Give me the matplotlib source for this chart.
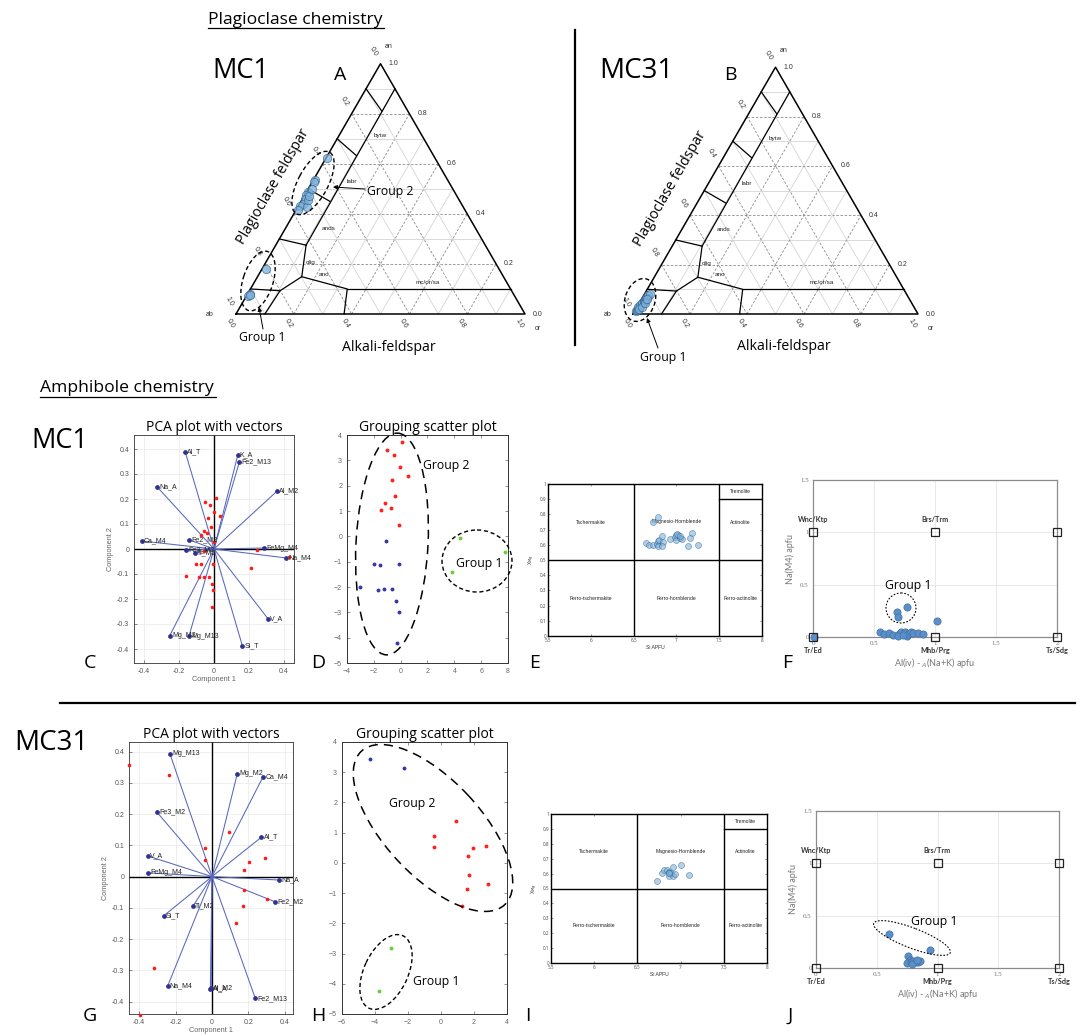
import numpy as np
import matplotlib
matplotlib.use("Agg")
import matplotlib.pyplot as plt
from matplotlib.patches import Ellipse, FancyArrowPatch
from matplotlib.transforms import Affine2D
from matplotlib.lines import Line2D

plt.rcParams['font.family'] = ['Open Sans', 'DejaVu Sans']

# ---------------------------------------------------------------- data
# Plagioclase compositions (An, Or fractions)
mc1_plag_an = [0.623, 0.536, 0.527, 0.487, 0.475, 0.46, 0.44, 0.43, 0.416, 0.427, 0.455, 0.47, 0.50,
               0.18, 0.08, 0.072, 0.076]
mc1_plag_or = [0.005, 0.005, 0.008, 0.004, 0.006, 0.01, 0.013, 0.006, 0.008, 0.031, 0.02, 0.018, 0.012,
               0.013, 0.008, 0.007, 0.01]
mc31_plag_an = [0.012, 0.018, 0.022, 0.027, 0.031, 0.035, 0.04, 0.044, 0.048, 0.052, 0.057, 0.062,
                0.066, 0.071, 0.076, 0.082, 0.02, 0.03, 0.045, 0.06]
mc31_plag_or = [0.004, 0.006, 0.008, 0.005, 0.01, 0.007, 0.012, 0.009, 0.014, 0.011, 0.013, 0.016,
                0.012, 0.018, 0.015, 0.02, 0.012, 0.015, 0.018, 0.02]

# PCA biplot MC1
mc1_vec_names = ['Al_T', 'K_A', 'Fe2_M13', 'Na_A', 'Al_M2', 'Ca_M4', 'Fe2_M2', 'FeMg_M4', 'Na_M4',
                 'Fe3_M2', 'Ti_M2', 'V_A', 'Mg_M2', 'Mg_M13', 'Si_T']
mc1_vec_c1 = [-0.164, 0.136, 0.145, -0.325, 0.36, -0.413, -0.143, 0.289, 0.415, -0.158, -0.111,
              0.308, -0.253, -0.143, 0.162]
mc1_vec_c2 = [0.387, 0.375, 0.348, 0.248, 0.231, 0.032, 0.037, 0.004, -0.036, -0.005, -0.017,
              -0.278, -0.346, -0.348, -0.386]
mc1_obs_c1 = [0.009, -0.053, -0.023, 0.0, 0.034, -0.032, -0.019, -0.06, -0.038, -0.072, -0.002,
              -0.055, 0.245, 0.43, -0.102, -0.077, -0.004, 0.211, -0.158, -0.085, -0.06, -0.028,
              -0.013, -0.004, -0.013]
mc1_obs_c2 = [0.204, 0.187, 0.176, 0.148, 0.131, 0.123, 0.089, 0.072, 0.063, 0.057, 0.027, -0.009,
              -0.004, -0.032, -0.059, -0.061, -0.059, -0.076, -0.109, -0.113, -0.111, -0.112,
              -0.139, -0.164, -0.23]

# PCA biplot MC31
mc31_vec_names = ['Mg_M13', 'Mg_M2', 'Ca_M4', 'Fe3_M2', 'Al_T', 'V_A', 'FeMg_M4', 'Na_A', 'Fe2_M2',
                  'Ti_M2', 'Si_T', 'Na_M4', 'Al_A', 'Al_M2', 'Fe2_M13']
mc31_vec_c1 = [-0.231, 0.139, 0.28, -0.302, 0.271, -0.352, -0.35, 0.37, 0.348, -0.104, -0.266,
               -0.244, -0.009, -0.004, 0.238]
mc31_vec_c2 = [0.393, 0.33, 0.319, 0.206, 0.126, 0.066, 0.012, -0.011, -0.081, -0.094, -0.126,
               -0.351, -0.359, -0.357, -0.39]
mc31_obs_c1 = [-0.456, -0.234, 0.095, -0.04, -0.04, 0.293, 0.201, 0.174, 0.178, 0.3, 0.17, 0.134,
               -0.317, -0.394]
mc31_obs_c2 = [0.357, 0.325, 0.144, 0.092, 0.052, 0.059, 0.048, 0.022, -0.044, -0.073, -0.093,
               -0.149, -0.292, -0.442]

# Grouping scatter MC1
mc1_red_x = [0.13, -1.04, -0.49, -0.04, 0.55, -0.66, -0.42, -1.2, -0.74, -1.46, -0.14]
mc1_red_y = [3.74, 3.41, 3.21, 2.73, 2.39, 2.23, 1.61, 1.31, 1.11, 1.05, 0.46]
mc1_blue_x = [-1.09, -1.96, -1.54, -0.14, -3.03, -1.66, -1.21, -0.66, -0.32, -0.14, -0.29]
mc1_blue_y = [-0.2, -1.08, -1.13, -1.08, -1.99, -2.13, -2.06, -2.07, -2.56, -3.0, -4.23]
mc1_green_x = [4.43, 7.81, 3.84]
mc1_green_y = [-0.08, -0.63, -1.41]

# Grouping scatter MC31
mc31_red_x = [0.89, -0.41, -0.41, 1.91, 2.74, 1.62, 1.68, 2.84, 1.6, 1.26]
mc31_red_y = [1.40, 0.9, 0.51, 0.48, 0.57, 0.22, -0.41, -0.69, -0.88, -1.43]
mc31_blue_x = [-4.33, -2.24]
mc31_blue_y = [3.45, 3.15]
mc31_green_x = [-3.01, -3.74]
mc31_green_y = [-2.8, -4.25]

# Amphibole classification (Si apfu vs X_Mg)
mc1_si = [6.79, 6.73, 6.645, 6.68, 6.73, 6.77, 6.79, 6.8, 6.83, 6.84, 6.78, 6.83, 6.92, 6.98, 7.02,
          7.0, 7.04, 7.07, 7.0, 7.18, 7.16, 7.14, 7.25, 7.01, 7.04]
mc1_xmg = [0.785, 0.75, 0.609, 0.6, 0.596, 0.604, 0.626, 0.63, 0.657, 0.62, 0.591, 0.591, 0.635,
           0.653, 0.664, 0.63, 0.642, 0.635, 0.662, 0.679, 0.646, 0.591, 0.596, 0.67, 0.657]
mc31_si = [6.73, 6.79, 6.81, 6.84, 6.86, 6.87, 6.87, 6.89, 6.91, 6.91, 6.94, 7.0, 7.1, 6.86]
mc31_xmg = [0.552, 0.605, 0.623, 0.623, 0.612, 0.601, 0.583, 0.605, 0.583, 0.646, 0.596, 0.661,
            0.592, 0.605]
amph_fields = ['Tschermakite', 'Magnesio-Hornblende', 'Actinolite', 'Tremolite',
               'Ferro-tschermakite', 'Ferro-hornblende', 'Ferro-actinolite']
amph_field_si = [6.0, 7.0, 7.75, 7.75, 6.0, 7.0, 7.75]
amph_field_xmg = [0.75, 0.75, 0.75, 0.95, 0.25, 0.25, 0.25]

# Na(M4) vs Al(iv)-A(Na+K)
mc1_aliv = [0.685, 0.696, 0.77, 1.014, 0.008, 0.553, 0.58, 0.625, 0.652, 0.707, 0.718, 0.753, 0.77,
            0.78, 0.8, 0.822, 0.863, 0.904, 0.7, 0.74]
mc1_nam4 = [0.235, 0.187, 0.289, 0.156, 0.0, 0.044, 0.029, 0.035, 0.016, 0.029, 0.044, 0.044, 0.006,
            0.032, 0.048, 0.038, 0.038, 0.032, 0.006, 0.022]
mc31_aliv = [0.6, 0.936, 0.76, 0.77, 0.747, 0.78, 0.8, 0.824, 0.843, 0.856, 0.788, 0.83]
mc31_nam4 = [0.322, 0.169, 0.111, 0.073, 0.048, 0.054, 0.067, 0.057, 0.054, 0.064, 0.041, 0.073]
ref_names = ['Tr/Ed', 'Wnc/Ktp', 'Mhb/Prg', 'Brs/Trm', 'Ts/Sdg', '']
ref_x = [0, 0, 1, 1, 2, 2]
ref_y = [0, 1, 0, 1, 0, 1]

# ---------------------------------------------------------------- figure
W, H = 1083, 1035
fig = plt.figure(figsize=(W / 100, H / 100), dpi=100)
fig.patch.set_facecolor('white')
PX = Affine2D().scale(1 / W, -1 / H).translate(0, 1) + fig.transFigure


def add_ax(x, y, w, h):
    return fig.add_axes([x / W, 1 - (y + h) / H, w / W, h / H])


def ftext(x, y, s, **kw):
    return fig.text(x, y, s, transform=PX, **kw)


def fline(xs, ys, **kw):
    fig.add_artist(Line2D(xs, ys, transform=PX, **kw))


def fell(cx, cy, w, h, ang=0, ls=(0, (3, 2)), lw=1.0):
    fig.add_artist(Ellipse((cx, cy), w, h, angle=-ang, transform=PX, fill=False,
                           ls=ls, lw=lw, color='k'))


def farrow(x0, y0, x1, y1):
    fig.add_artist(FancyArrowPatch((x0, y0), (x1, y1), transform=PX, arrowstyle='-|>',
                                   mutation_scale=6, lw=0.7, color='k', shrinkA=0, shrinkB=0))


# ---------------------------------------------------------------- ternary
SQ = np.sqrt(3) / 2
TICKF = 'Liberation Sans'
GF = 8.8  # group label font size


def t2c(an, orr):
    an = np.asarray(an, float)
    orr = np.asarray(orr, float)
    return orr + an / 2, an * SQ


field_lines = [[(0.9, 0.0), (0.81, 0.1)], [(0.9, 0.1), (0.275, 0.105)],
               [(0.7, 0.0), (0.633, 0.1)], [(0.5, 0.0), (0.45, 0.1)], [(0.3, 0.0), (0.275, 0.105)],
               [(0.275, 0.105), (0.149, 0.153), (0.093, 0.106), (0.0, 0.1)],
               [(0.1, 0.0), (0.093, 0.106)], [(0.149, 0.153), (0.1, 0.335), (0.0, 0.374)],
               [(0.1, 0.335), (0.1, 0.9)]]
field_labels = [('bytw', 0.712, 0.142), ('labr', 0.529, 0.136), ('ands', 0.343, 0.148),
                ('olig', 0.204, 0.157), ('ano', 0.159, 0.225), ('mc/or/sa', 0.126, 0.6)]


def ternary(vx, vy, s, an_v, or_v):
    h = s * SQ
    mL, mR, mT, mB = 70, 60, 50, 60
    ax = add_ax(vx - mL, vy - h - mT, s + mL + mR, h + mT + mB)
    ax.set_xlim(-mL / s, 1 + mR / s)
    ax.set_ylim(-mB / s, (h + mT) / s)
    ax.axis('off')
    for i in range(1, 10):
        v = i / 10
        if i % 2 == 0:
            kw = dict(color='#8a8a8a', lw=0.6, ls=(0, (3, 2)))
        else:
            kw = dict(color='#d4d4d4', lw=0.6)
        for (a1, o1), (a2, o2) in [((v, 0), (v, 1 - v)), ((0, v), (1 - v, v)),
                                   ((1 - v, 0), (0, 1 - v))]:
            x, y = t2c([a1, a2], [o1, o2])
            ax.plot(x, y, zorder=1, **kw)
    x, y = t2c([0, 0, 1, 0], [0, 1, 0, 0])
    ax.plot(x, y, color='k', lw=1.1, zorder=3)
    for seg in field_lines:
        a = [p[0] for p in seg]
        o = [p[1] for p in seg]
        x, y = t2c(a, o)
        ax.plot(x, y, color='k', lw=0.9, zorder=3)
    for name, a, o in field_labels:
        x, y = t2c(a, o)
        ax.text(x, y, name, fontsize=4.6, family=TICKF, color='#222', ha='center', va='center',
                zorder=5)
    for i in range(6):
        v = i / 5
        lab = f'{v:.1f}'
        # An on right edge
        x, y = t2c(v, 1 - v)
        ax.text(x + 0.028, y, lab, fontsize=5, family=TICKF, color='#333', ha='left', va='center')
        # Ab on left edge
        x, y = t2c(1 - v, 0)
        ax.text(x - 0.024, y + 0.042, lab, fontsize=5, family=TICKF, color='#333', ha='center',
                va='center', rotation=-60)
        # Or on bottom
        x, y = t2c(0, v)
        ax.text(x - 0.02, y - 0.032, lab, fontsize=5, family=TICKF, color='#333', ha='center',
                va='center', rotation=-60)
    ax.text(0.5 + 0.03, SQ + 0.055, 'an', fontsize=5, family=TICKF, color='#333', ha='center')
    ax.text(-0.09, 0, 'ab', fontsize=5, family=TICKF, color='#333', ha='center', va='center')
    ax.text(1.045, -0.05, 'or', fontsize=5, family=TICKF, color='#333', ha='center', va='center')
    ax.text(0.13, 0.44, 'Plagioclase feldspar', fontsize=10.3, rotation=60, ha='center',
            va='center')
    ax.text(0.53, -0.115, 'Alkali-feldspar', fontsize=10.2, ha='center', va='center')
    x, y = t2c(an_v, or_v)
    ax.plot(x, y, 'o', ms=6, mfc='#7fb1da', mec='#2f6390', mew=0.6, alpha=0.75, zorder=6,
            clip_on=False)
    return ax


ternary(236, 314, 289, mc1_plag_an, mc1_plag_or)
ternary(633, 314, 285, mc31_plag_an, mc31_plag_or)

# ternary annotations
fell(313, 183, 70, 30, ang=62)
ftext(390, 192, 'Group 2', fontsize=GF, ha='center', va='center')
farrow(365, 189, 333, 187)
fell(258, 281, 62, 30, ang=72)
ftext(262, 338, 'Group 1', fontsize=GF, ha='center', va='center')
farrow(263, 329, 259, 307)
fell(640, 300, 44, 30, ang=72)
ftext(663, 357, 'Group 1', fontsize=GF, ha='center', va='center')
farrow(658, 348, 647, 318)

# ---------------------------------------------------------------- headings
ftext(208, 24, 'Plagioclase chemistry', fontsize=12.6, ha='left', va='baseline')
fline([208, 384], [28, 28], color='k', lw=0.9)
ftext(40, 392, 'Amphibole chemistry', fontsize=12.6, ha='left', va='baseline')
fline([40, 216], [397, 397], color='k', lw=0.9)
fline([575, 575], [30, 345], color='k', lw=1.6)
fline([60, 1075], [703, 703], color='k', lw=1.6)

ftext(212, 78, 'MC1', fontsize=19.5, ha='left', va='baseline')
ftext(334, 80, 'A', fontsize=14, ha='left', va='baseline')
ftext(599, 78, 'MC31', fontsize=20, ha='left', va='baseline')
ftext(724, 80, 'B', fontsize=14, ha='left', va='baseline')
ftext(31, 448, 'MC1', fontsize=19.5, ha='left', va='baseline')
ftext(14, 750, 'MC31', fontsize=20, ha='left', va='baseline')
for lab, x, y in [('C', 90, 668), ('D', 318, 668), ('E', 535, 668), ('F', 787, 668),
                  ('G', 90, 1021), ('H', 318, 1021), ('I', 528, 1021), ('J', 790, 1021)]:
    ftext(x, y, lab, fontsize=14, ha='center', va='baseline')


# ---------------------------------------------------------------- PCA panels
def fmt(v):
    s = f'{v:.1f}'
    return '0' if abs(v) < 1e-9 else s


def pca_panel(box, names, vc1, vc2, oc1, oc2, xlim, ylim):
    ax = add_ax(*box)
    ax.set_xlim(xlim)
    ax.set_ylim(ylim)
    xt = [-0.4, -0.2, 0, 0.2, 0.4]
    yt = [round(v, 1) for v in np.arange(-0.4, 0.41, 0.1)]
    ax.set_xticks(xt)
    ax.set_xticklabels([fmt(v) for v in xt])
    ax.set_yticks(yt)
    ax.set_yticklabels([fmt(v) for v in yt])
    ax.grid(True, color='#e9e9e9', lw=0.5)
    ax.set_axisbelow(True)
    ax.axhline(0, color='k', lw=1.0, zorder=2)
    ax.axvline(0, color='k', lw=1.0, zorder=2)
    for x, y in zip(vc1, vc2):
        ax.plot([0, x], [0, y], color='#5867bd', lw=0.75, zorder=3)
    ax.plot(vc1, vc2, 'o', ms=2.4, color='#2e3192', zorder=4)
    for n, x, y in zip(names, vc1, vc2):
        ax.text(x + 0.012, y, n, fontsize=5.0, va='center', ha='left', family=TICKF,
                color='#222', zorder=5)
    ax.plot(oc1, oc2, 'o', ms=2.6, color='#ff1a1a', mec='none', zorder=4, clip_on=False)
    ax.tick_params(labelsize=5, colors='#555', length=2, width=0.5, direction='in')
    for lab in ax.get_xticklabels() + ax.get_yticklabels():
        lab.set_family(TICKF)
    for sp in ax.spines.values():
        sp.set_color('#333')
        sp.set_linewidth(0.6)
    ax.set_xlabel('Component 1', fontsize=5.3, color='#666', labelpad=1, family=TICKF)
    ax.set_ylabel('Component 2', fontsize=5.3, color='#666', labelpad=2, family=TICKF)
    ax.set_title('PCA plot with vectors', fontsize=10, pad=3)
    return ax


pca_panel((134, 435, 160, 228), mc1_vec_names, mc1_vec_c1, mc1_vec_c2, mc1_obs_c1, mc1_obs_c2,
          (-0.458, 0.458), (-0.456, 0.456))
pca_panel((129, 742, 164, 272), mc31_vec_names, mc31_vec_c1, mc31_vec_c2, mc31_obs_c1,
          mc31_obs_c2, (-0.456, 0.445), (-0.44, 0.431))


# ---------------------------------------------------------------- grouping scatter
def group_panel(box, xlim, ylim, xticks, rx, ry, bx, by, gx, gy):
    ax = add_ax(*box)
    ax.set_xlim(xlim)
    ax.set_ylim(ylim)
    ax.set_xticks(xticks)
    ax.set_yticks(range(int(ylim[0]), int(ylim[1]) + 1))
    ax.tick_params(labelsize=5, colors='#666', length=2, width=0.5, direction='in',
                   top=True, right=True)
    for lab in ax.get_xticklabels() + ax.get_yticklabels():
        lab.set_family(TICKF)
    for sp in ax.spines.values():
        sp.set_color('#333')
        sp.set_linewidth(0.7)
    kw = dict(ms=2.8, mec='none', zorder=4, clip_on=False, ls='none', marker='o')
    ax.plot(rx, ry, color='#ff2020', **kw)
    ax.plot(bx, by, color='#3636a8', **kw)
    ax.plot(gx, gy, color='#6ccc3c', **kw)
    ax.set_title('Grouping scatter plot', fontsize=10, pad=3)
    return ax


group_panel((347, 435, 161, 228), (-4, 8), (-5, 4), [-4, -2, 0, 2, 4, 6, 8],
            mc1_red_x, mc1_red_y, mc1_blue_x, mc1_blue_y, mc1_green_x, mc1_green_y)
group_panel((342, 742, 165, 272), (-6, 4), (-5, 4), [-6, -4, -2, 0, 2, 4],
            mc31_red_x, mc31_red_y, mc31_blue_x, mc31_blue_y, mc31_green_x, mc31_green_y)

DASH = (0, (6, 4))
fell(392, 544, 72, 222, ang=-3, ls=DASH, lw=1.1)
ftext(446, 466, 'Group 2', fontsize=GF, ha='center', va='center')
fell(477, 561, 70, 62, ls=(0, (3, 2)), lw=1.0)
ftext(479, 563, 'Group 1', fontsize=GF, ha='center', va='center')
fell(433, 828, 210, 96, ang=-47, ls=DASH, lw=1.1)
ftext(412, 803, 'Group 2', fontsize=GF, ha='center', va='center')
fell(386, 972, 80, 44, ang=65, ls=(0, (3, 2)), lw=1.0)
ftext(436, 982, 'Group 1', fontsize=GF, ha='center', va='center')


# ---------------------------------------------------------------- classification panels
def class_panel(box, si, xmg):
    ax = add_ax(*box)
    ax.set_xlim(5.5, 8)
    ax.set_ylim(0, 1)
    xt = [5.5, 6, 6.5, 7, 7.5, 8]
    ax.set_xticks(xt)
    ax.set_xticklabels([f'{v:g}' for v in xt])
    yt = [round(v, 1) for v in np.arange(0, 1.01, 0.1)]
    ax.set_yticks(yt)
    ax.set_yticklabels([f'{v:g}' for v in yt])
    ax.tick_params(labelsize=3.3, colors='#444', length=1.5, width=0.4, direction='in',
                   top=True, right=True, pad=1.5)
    for sp in ax.spines.values():
        sp.set_linewidth(1.0)
    for xs, ys in [([6.5, 6.5], [0, 1]), ([7.5, 7.5], [0, 1]), ([5.5, 8], [0.5, 0.5]),
                   ([7.5, 8], [0.9, 0.9])]:
        ax.plot(xs, ys, color='k', lw=1.0, zorder=2)
    for n, x, y in zip(amph_fields, amph_field_si, amph_field_xmg):
        ax.text(x, y, n, fontsize=3.6, family=TICKF, ha='center', va='center', color='#222')
    ax.plot(si, xmg, 'o', ms=4.3, mfc='#7fb1da', mec='#2f6390', mew=0.5, alpha=0.6, zorder=4)
    ax.set_xlabel('Si APFU', fontsize=3.6, family=TICKF, color='#333', labelpad=1.5)
    ax.set_ylabel('X$_{Mg}$', fontsize=3.6, family=TICKF, color='#333', labelpad=1.5)
    return ax


class_panel((548, 484, 214, 152), mc1_si, mc1_xmg)
class_panel((551, 814, 216, 149), mc31_si, mc31_xmg)


# ---------------------------------------------------------------- Na(M4) panels
def na_panel(box, ax_x, ax_y):
    ax = add_ax(*box)
    ax.set_xlim(0, 2)
    ax.set_ylim(0, 1.5)
    xt = [0, 0.5, 1, 1.5, 2]
    ax.set_xticks(xt)
    ax.set_xticklabels([f'{v:g}' for v in xt])
    yt = [0, 0.5, 1, 1.5]
    ax.set_yticks(yt)
    ax.set_yticklabels([f'{v:g}' for v in yt])
    ax.grid(True, color='#e4e4e4', lw=0.6)
    ax.set_axisbelow(True)
    ax.tick_params(labelsize=5, colors='#777', length=0, pad=3)
    for lab in ax.get_xticklabels() + ax.get_yticklabels():
        lab.set_family('Liberation Serif')
    for sp in ax.spines.values():
        sp.set_color('#8c8c8c')
        sp.set_linewidth(0.9)
    ax.plot(ax_x, ax_y, 'o', ms=5.2, mfc='#5b8fcc', mec='#41719c', mew=0.5, zorder=4,
            clip_on=False)
    ax.plot(ref_x, ref_y, 's', ms=5.5, mfc='none', mec='#222', mew=0.9, zorder=5,
            clip_on=False)
    for n, x, y in zip(ref_names, ref_x, ref_y):
        if not n:
            continue
        dy = 9 if y == 1 else -10
        ax.annotate(n, (x, y), xytext=(0, dy), textcoords='offset points', fontsize=5.2,
                    weight='bold', family='Lato', color='#333', ha='center', va='center',
                    annotation_clip=False)
    ax.set_xlabel('Al(iv) - $_{A}$(Na+K) apfu', fontsize=6.5, color='#777', labelpad=7,
                  family='Lato')
    ax.set_ylabel('Na(M4) apfu', fontsize=6.5, color='#777', labelpad=4, family='Lato')
    return ax


na_panel((813, 480, 244, 157), mc1_aliv, mc1_nam4)
na_panel((816, 811, 243, 157), mc31_aliv, mc31_nam4)

fell(901, 608, 30, 30, ls=(0, (1.5, 1.5)), lw=0.8)
ftext(908, 586, 'Group 1', fontsize=GF, ha='center', va='center')
fell(912, 938, 82, 20, ang=-21, ls=(0, (1.5, 1.5)), lw=0.8)
ftext(934, 922, 'Group 1', fontsize=GF, ha='center', va='center')

fig.savefig('out.png', dpi=100, facecolor='white')
